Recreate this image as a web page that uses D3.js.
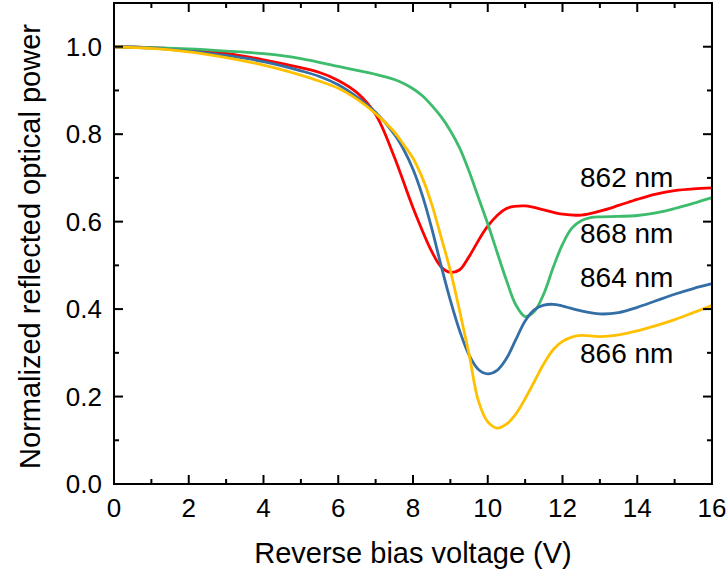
<!DOCTYPE html>
<html>
<head>
<meta charset="utf-8">
<script src="https://cdn.jsdelivr.net/npm/d3@7"></script>
<style>
  body { margin: 0; background: #fff; }
  text { font-family: "Liberation Sans", Arial, sans-serif; fill: #000; }
</style>
</head>
<body>
<div id="chart"></div>
<script>
// bias voltage (V) and normalized reflected power
var v862 = [0, 1, 2, 3, 4, 5, 5.5, 6, 6.5, 7, 7.5, 8, 8.5, 8.75, 9, 9.25, 9.5, 10, 10.5, 11, 11.5, 12, 12.5, 13, 13.5, 14, 14.5, 15, 15.5, 16];
var p862 = [1.0, 0.998, 0.993, 0.985, 0.970, 0.952, 0.941, 0.923, 0.895, 0.845, 0.748, 0.632, 0.532, 0.497, 0.484, 0.490, 0.520, 0.590, 0.630, 0.636, 0.627, 0.617, 0.615, 0.624, 0.637, 0.651, 0.663, 0.671, 0.675, 0.677];

var v864 = [0, 1, 2, 3, 4, 5, 5.5, 6, 6.5, 7, 7.5, 7.75, 8, 8.25, 8.5, 8.75, 9, 9.25, 9.5, 9.75, 10, 10.25, 10.5, 10.75, 11, 11.25, 11.5, 11.75, 12, 12.5, 13, 13.5, 14, 14.5, 15, 15.5, 16];
var p864 = [1.0, 0.997, 0.990, 0.980, 0.966, 0.945, 0.932, 0.913, 0.885, 0.850, 0.800, 0.765, 0.720, 0.660, 0.585, 0.500, 0.420, 0.350, 0.295, 0.262, 0.252, 0.260, 0.287, 0.330, 0.373, 0.399, 0.409, 0.411, 0.407, 0.396, 0.389, 0.392, 0.404, 0.419, 0.434, 0.447, 0.458];

var v866 = [0, 1, 2, 3, 4, 5, 5.5, 6, 6.5, 7, 7.5, 7.75, 8, 8.25, 8.5, 8.75, 9, 9.25, 9.5, 9.75, 10, 10.25, 10.5, 10.75, 11, 11.25, 11.5, 11.75, 12, 12.25, 12.5, 13, 13.5, 14, 14.5, 15, 15.5, 16];
var p866 = [1.0, 0.996, 0.988, 0.975, 0.958, 0.935, 0.921, 0.905, 0.880, 0.847, 0.805, 0.776, 0.745, 0.700, 0.640, 0.565, 0.488, 0.395, 0.297, 0.190, 0.142, 0.128, 0.137, 0.160, 0.195, 0.235, 0.275, 0.307, 0.326, 0.336, 0.340, 0.337, 0.341, 0.350, 0.362, 0.376, 0.392, 0.408];

var v868 = [0, 1, 2, 3, 4, 5, 6, 6.5, 7, 7.5, 7.75, 8, 8.25, 8.5, 8.75, 9, 9.25, 9.5, 9.75, 10, 10.25, 10.5, 10.75, 11, 11.25, 11.5, 11.75, 12, 12.25, 12.5, 12.75, 13, 13.5, 14, 14.5, 15, 15.5, 16];
var p868 = [1.0, 0.998, 0.995, 0.990, 0.984, 0.973, 0.955, 0.946, 0.937, 0.925, 0.916, 0.904, 0.888, 0.866, 0.840, 0.808, 0.768, 0.715, 0.655, 0.595, 0.530, 0.466, 0.410, 0.383, 0.395, 0.435, 0.495, 0.548, 0.585, 0.602, 0.609, 0.611, 0.612, 0.614, 0.620, 0.630, 0.642, 0.655];

var seriesNames = ["862 nm", "864 nm", "866 nm", "868 nm"];
var seriesColors = ["#ff0000", "#336ea6", "#ffc000", "#3cbc6c"];

var xTicks = [0, 2, 4, 6, 8, 10, 12, 14, 16];
var yTicks = [0.0, 0.2, 0.4, 0.6, 0.8, 1.0];

var width = 728;
var height = 576;
var margin = { left: 114, right: 16, top: 3, bottom: 92 };

var svg = d3.select("#chart").append("svg")
  .attr("width", width)
  .attr("height", height);

var x = d3.scaleLinear().domain([0, 16]).range([margin.left, width - margin.right]);
var y = d3.scaleLinear().domain([0, 1.1]).range([height - margin.bottom, margin.top]);

// curves
var series = [
  { v: v862, p: p862 },
  { v: v864, p: p864 },
  { v: v866, p: p866 },
  { v: v868, p: p868 }
];

var line = d3.line()
  .x(d => x(d[0]))
  .y(d => y(d[1]))
  .curve(d3.curveCatmullRom.alpha(0.5));

var drawOrder = [0, 3, 1, 2];
drawOrder.forEach(function (i) {
  var pts = series[i].v.map((val, k) => [val, series[i].p[k]]);
  svg.append("path")
    .datum(pts)
    .attr("fill", "none")
    .attr("stroke", seriesColors[i])
    .attr("stroke-width", 2.8)
    .attr("d", line);
});

// frame + inward ticks on all four sides
var xMinor = d3.range(0, 17, 1);
var yMinor = d3.range(0, 11, 1).map(d => d / 10);
var x0 = x(0), x1 = x(16), y0 = y(0), y1 = y(1.1);
var tickG = svg.append("g").attr("stroke", "#000").attr("stroke-width", 2);

xMinor.forEach(function (t) {
  var len = (t % 2 === 0) ? 9 : 5;
  tickG.append("line").attr("x1", x(t)).attr("x2", x(t)).attr("y1", y0).attr("y2", y0 - len);
  tickG.append("line").attr("x1", x(t)).attr("x2", x(t)).attr("y1", y1).attr("y2", y1 + len);
});
yMinor.forEach(function (t) {
  var len = (Math.round(t * 10) % 2 === 0) ? 9 : 5;
  tickG.append("line").attr("x1", x0).attr("x2", x0 + len).attr("y1", y(t)).attr("y2", y(t));
  tickG.append("line").attr("x1", x1).attr("x2", x1 - len).attr("y1", y(t)).attr("y2", y(t));
});

svg.append("rect")
  .attr("x", x0).attr("y", y1)
  .attr("width", x1 - x0).attr("height", y0 - y1)
  .attr("fill", "none").attr("stroke", "#000").attr("stroke-width", 2);

// tick labels
svg.selectAll(".xl").data(xTicks).enter().append("text")
  .attr("x", d => x(d))
  .attr("y", 517)
  .attr("text-anchor", "middle")
  .attr("font-size", 26)
  .text(d => d);

svg.selectAll(".yl").data(yTicks).enter().append("text")
  .attr("x", 102)
  .attr("y", d => y(d) + 9)
  .attr("text-anchor", "end")
  .attr("font-size", 26)
  .text(d => d.toFixed(1));

// axis titles
svg.append("text")
  .attr("x", (x0 + x1) / 2)
  .attr("y", 563)
  .attr("text-anchor", "middle")
  .attr("font-size", 29)
  .text("Reverse bias voltage (V)");

svg.append("text")
  .attr("transform", "translate(40," + ((y0 + y1) / 2 + 3) + ") rotate(-90)")
  .attr("text-anchor", "middle")
  .attr("font-size", 29)
  .text("Normalized reflected optical power");

// series labels
var labelY = [187, 287, 363, 243];
seriesNames.forEach(function (name, i) {
  svg.append("text")
    .attr("x", 580)
    .attr("y", labelY[i])
    .attr("font-size", 28)
    .text(name);
});
</script>
</body>
</html>
